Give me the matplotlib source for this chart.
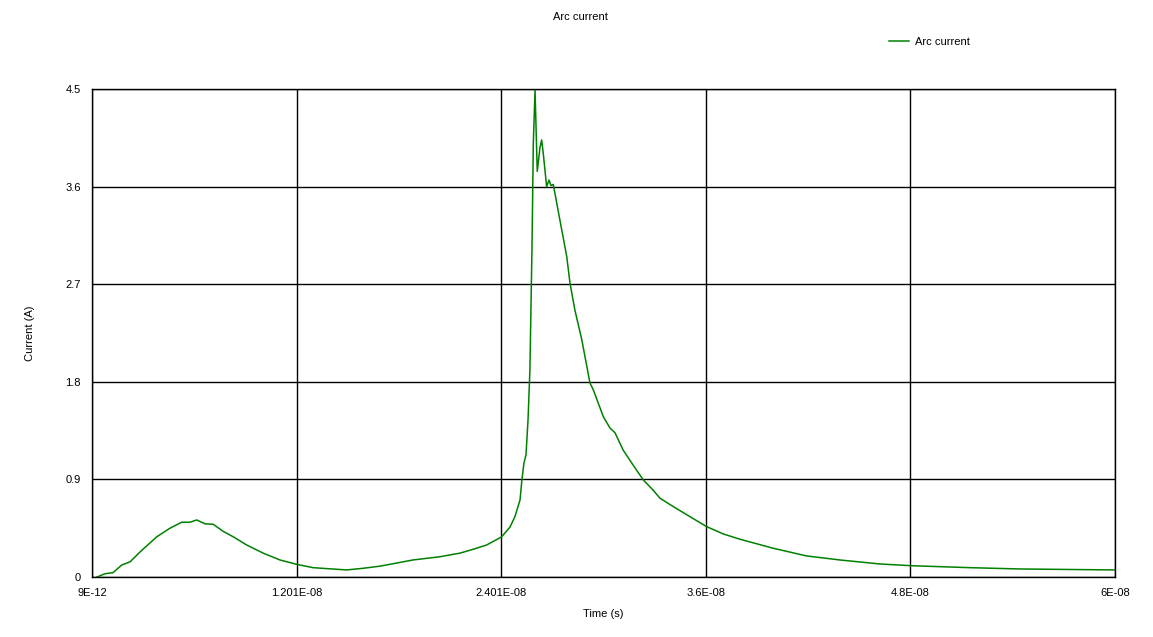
import matplotlib.pyplot as plt
import numpy as np

# time in ns, current in A
t_ns = np.array([0.30, 0.77, 1.24, 1.75, 2.24, 2.82, 3.80, 4.58, 5.27, 5.76,
                 6.15, 6.64, 7.12, 7.71, 8.30, 9.08, 10.05, 11.03, 12.01, 12.97,
                 14.94, 15.90, 16.90, 18.83, 20.42, 21.59, 22.35, 23.15, 24.03, 24.52,
                 24.81, 25.11, 25.22, 25.34, 25.46, 25.58, 25.69, 25.81, 25.89, 25.99,
                 26.12, 26.28, 26.38, 26.47, 26.67, 26.81, 26.92, 27.06, 27.45, 27.85,
                 28.04, 28.33, 28.73, 29.21, 29.41, 29.99, 30.38, 30.68, 31.16, 31.75,
                 32.34, 32.92, 33.32, 34.10, 35.08, 36.06, 37.03, 38.01, 39.96, 41.92,
                 43.87, 46.22, 48.08, 51.50, 54.43, 60.0])
current = np.array([0.0, 0.03, 0.04, 0.11, 0.14, 0.23, 0.37, 0.45, 0.505, 0.505,
                    0.526, 0.49, 0.486, 0.42, 0.37, 0.295, 0.22, 0.157, 0.117, 0.086,
                    0.065, 0.08, 0.10, 0.157, 0.187, 0.22, 0.255, 0.295, 0.37, 0.46,
                    0.556, 0.71, 0.895, 1.05, 1.125, 1.45, 1.91, 3.02, 4.0, 4.49,
                    3.74, 3.96, 4.03, 3.91, 3.60, 3.66, 3.61, 3.62, 3.29, 2.955,
                    2.71, 2.46, 2.19, 1.79, 1.725, 1.48, 1.375, 1.33, 1.17, 1.03,
                    0.895, 0.80, 0.726, 0.649, 0.556, 0.464, 0.397, 0.348, 0.265, 0.194,
                    0.157, 0.12, 0.104, 0.086, 0.074, 0.065])

xticks = [9e-12, 1.201e-8, 2.401e-8, 3.6e-8, 4.8e-8, 6e-8]
xticklabels = ['9E-12', '1.201E-08', '2.401E-08', '3.6E-08', '4.8E-08', '6E-08']
yticks = [0, 0.9, 1.8, 2.7, 3.6, 4.5]

plt.rcParams['font.family'] = ['Liberation Sans', 'DejaVu Sans']
plt.rcParams['font.size'] = 8

fig = plt.figure(figsize=(11.53, 6.37), dpi=100)
ax = fig.add_axes([0.0798, 0.0942, 0.8872, 0.7661])

line, = ax.plot(t_ns * 1e-9, current, color='green', linewidth=1.1, label='Arc current')

ax.set_xlim(9e-12, 6e-8)
ax.set_ylim(0, 4.5)
ax.set_xticks(xticks)
ax.set_xticklabels(xticklabels)
ax.set_yticks(yticks)
ax.set_yticklabels(['0', '0.9', '1.8', '2.7', '3.6', '4.5'])
ax.tick_params(length=0, pad=8, colors='black')
ax.grid(True, color='black', linewidth=1)
for s in ax.spines.values():
    s.set_color('black')
    s.set_linewidth(1)

ax.set_xlabel('Time (s)', labelpad=8)
ax.set_ylabel('Current (A)', labelpad=22)
fig.text(0.503, 0.973, 'Arc current', ha='center', va='center')
fig.legend(handles=[line], loc='center left', bbox_to_anchor=(0.762, 0.934),
           frameon=False, handlelength=1.8, handletextpad=0.6)

fig.savefig('out.png', dpi=100)
